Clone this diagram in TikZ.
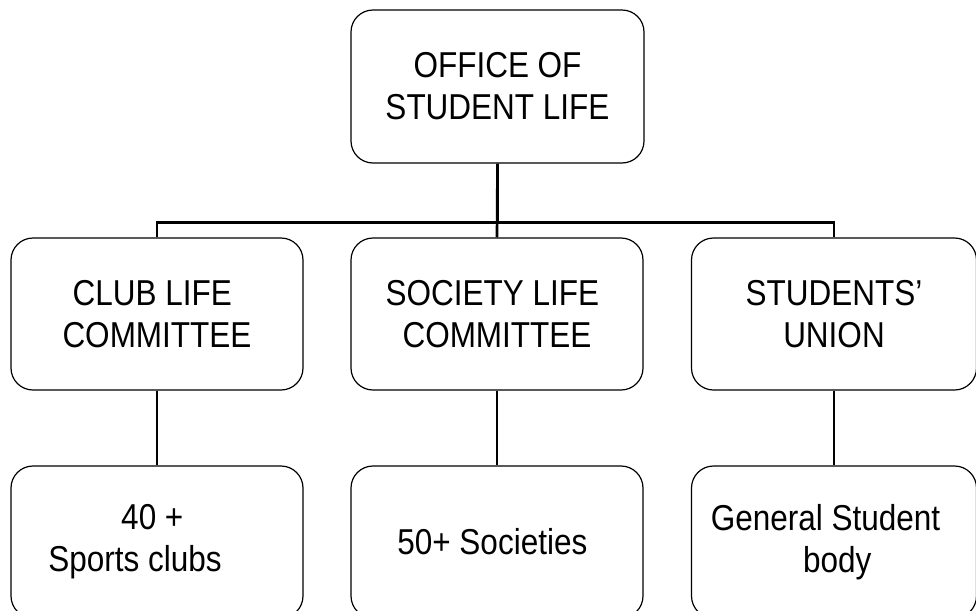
\documentclass[tikz,border=0pt]{standalone}
\usepackage{fontspec}
\setmainfont{Liberation Sans}[FakeStretch=0.875]
\usepackage{tikz}
\tikzset{every picture/.style={line width=0.75pt}}
\tikzset{
  unitbox/.style={draw, color={rgb, 255:red, 0; green, 0; blue, 0 }, line width=0.9pt, rounded corners=16.5pt,
    minimum width=219pt, minimum height=114pt, inner sep=0pt, align=center,
    font=\fontsize{27}{31.5}\selectfont},
  link/.style={line width=2pt}
}

\begin{document}
\begin{tikzpicture}[x=0.75pt,y=0.75pt,yscale=-1,xscale=1]
		%set diagram left start at 0, and has height of 611
		\useasboundingbox (0,0) rectangle (976,611);
		
		%Rounded Rect [id:office] 
		\node [unitbox, minimum width=219.75pt, minimum height=114.75pt] (office) at (497.5,86.5) {OFFICE OF\\STUDENT LIFE};
		
		%Rounded Rect [id:club] 
		\node [unitbox] (club) at (157,314) {CLUB LIFE\hspace*{7pt}\\COMMITTEE};
		
		%Rounded Rect [id:society] 
		\node [unitbox] (society) at (497,314) {SOCIETY LIFE\hspace*{7pt}\\COMMITTEE};
		
		%Rounded Rect [id:union] 
		\node [unitbox, minimum width=213.75pt] (union) at (834,314) {STUDENTS’\\UNION};
		
		%Rounded Rect [id:sports] 
		\node [unitbox] (sports) at (157,542) {40 +\hspace*{7pt}\\Sports clubs\hspace*{33pt}};
		
		%Rounded Rect [id:societies] 
		\node [unitbox] (societies) at (497,542) {50+ Societies\hspace*{7pt}};
		
		%Rounded Rect [id:body] 
		\node [unitbox, minimum width=213.75pt] (body) at (834,542) {General Student\hspace*{12.75pt}\\\hspace*{5pt}body};
		
		
		%Straight Lines [id:bus] 
		\draw [link]  (office.south) -- ++(0,59) -| (club.north) ;
		\draw [link]  (office.south) -- ++(0,59) -| (union.north) ;
		\draw [link]  (office.south) -- (society.north) ;
		
		
		%Straight Lines [id:drop] 
		\draw [link]  (club.south) -- (sports.north) ;
		\draw [link]  (society.south) -- (societies.north) ;
		\draw [link]  (union.south) -- (body.north) ;
		
		
\end{tikzpicture}
\end{document}
